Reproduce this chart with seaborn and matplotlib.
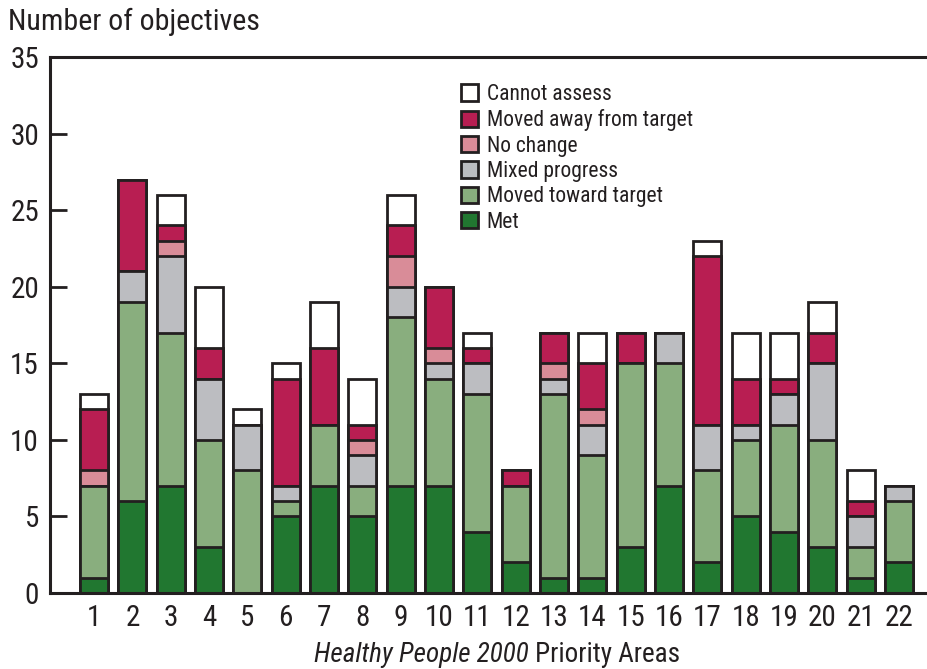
import numpy as np
import pandas as pd
import matplotlib
matplotlib.use("Agg")
import matplotlib.pyplot as plt
from matplotlib.patches import Patch
from matplotlib import font_manager
import seaborn as sns

# data (objectives per priority area)
areas = [str(i) for i in range(1, 23)]
met = [1, 6, 7, 3, 0, 5, 7, 5, 7, 7, 4, 2, 1, 1, 3, 7, 2, 5, 4, 3, 1, 2]
toward = [6, 13, 10, 7, 8, 1, 4, 2, 11, 7, 9, 5, 12, 8, 12, 8, 6, 5, 7, 7, 2, 4]
mixed = [0, 2, 5, 4, 3, 1, 0, 2, 2, 1, 2, 0, 1, 2, 0, 2, 3, 1, 2, 5, 2, 1]
nochange = [1, 0, 1, 0, 0, 0, 0, 1, 2, 1, 0, 0, 1, 1, 0, 0, 0, 0, 0, 0, 0, 0]
away = [4, 6, 1, 2, 0, 7, 5, 1, 2, 4, 1, 1, 2, 3, 2, 0, 11, 3, 1, 2, 1, 0]
cannot = [1, 0, 2, 4, 1, 1, 3, 3, 2, 0, 1, 0, 0, 2, 0, 0, 1, 3, 3, 2, 2, 0]

labels = ["Met", "Moved toward target", "Mixed progress", "No change",
          "Moved away from target", "Cannot assess"]
colors = ["#217730", "#89ae7e", "#bcbdc1", "#d98c98", "#b81e52", "#ffffff"]
EDGE = "#231f20"

df = pd.DataFrame({"area": areas, "Met": met, "Moved toward target": toward,
                   "Mixed progress": mixed, "No change": nochange,
                   "Moved away from target": away, "Cannot assess": cannot})
cum = df[labels].cumsum(axis=1)

sns.set_style("ticks")
# prefer a condensed face if one is around
installed = {f.name for f in font_manager.fontManager.ttflist}
narrow = [n for n in ["Roboto Condensed", "Liberation Sans Narrow", "Open Sans Condensed",
                      "Noto Sans Condensed", "DejaVu Sans Condensed"] if n in installed]
font_list = narrow + ["Liberation Sans", "DejaVu Sans"]
plt.rcParams["font.family"] = font_list
k = 1.0 if narrow else 0.85

fig = plt.figure(figsize=(9.27, 6.69), dpi=100)
ax = fig.add_axes([50 / 927, 1 - 593 / 669, 1 - 50 / 927, (593 - 57) / 669])

# draw cumulative totals from the top layer down so each segment shows
for lab, col in zip(labels[::-1], colors[::-1]):
    sns.barplot(x=df["area"], y=cum[lab], color=col, saturation=1, width=0.73,
                edgecolor=EDGE, linewidth=2, errorbar=None, ax=ax)

ax.set_xlim(-1.148, 21.73)
ax.set_ylim(0, 35)
ax.set_yticks(range(0, 36, 5))
ax.set_xlabel("")
ax.set_ylabel("")
ax.tick_params(axis="y", direction="in", length=12, width=2, color=EDGE,
               labelsize=21 * k, pad=8, labelcolor=EDGE)
ax.tick_params(axis="x", length=0, labelsize=21 * k, pad=8, labelcolor=EDGE)
for s in ["left", "bottom", "top"]:
    ax.spines[s].set_linewidth(2.2)
    ax.spines[s].set_color(EDGE)
ax.spines["right"].set_visible(False)

handles = [Patch(facecolor=c, edgecolor=EDGE, linewidth=2, label=l)
           for l, c in zip(labels[::-1], colors[::-1])]
fig.legend(handles=handles, loc="upper left", bbox_to_anchor=(461 / 927, 1 - 84 / 669),
           frameon=False, fontsize=15.5 * k, handlelength=0.8, handleheight=0.8,
           handletextpad=0.4, labelspacing=0.2, borderpad=0, borderaxespad=0,
           labelcolor=EDGE)

fig.text(8 / 927, 1 - 22 / 669, "Number of objectives", fontsize=21.5 * k,
         va="center", ha="left", color=EDGE)

# x label: italic title part followed by regular text, centred as a pair
t1 = fig.text(0, 1 - 655 / 669, "Healthy People 2000", fontsize=19.5 * k,
              style="italic", va="center", ha="left", color=EDGE)
t2 = fig.text(0, 1 - 655 / 669, "Priority Areas", fontsize=19.5 * k,
              va="center", ha="left", color=EDGE)
fig.canvas.draw()
w1 = t1.get_window_extent().width
w2 = t2.get_window_extent().width
x0 = 497 - (w1 + 6 + w2) / 2
t1.set_x(x0 / 927)
t2.set_x((x0 + w1 + 6) / 927)

fig.savefig("out.png", dpi=100)
